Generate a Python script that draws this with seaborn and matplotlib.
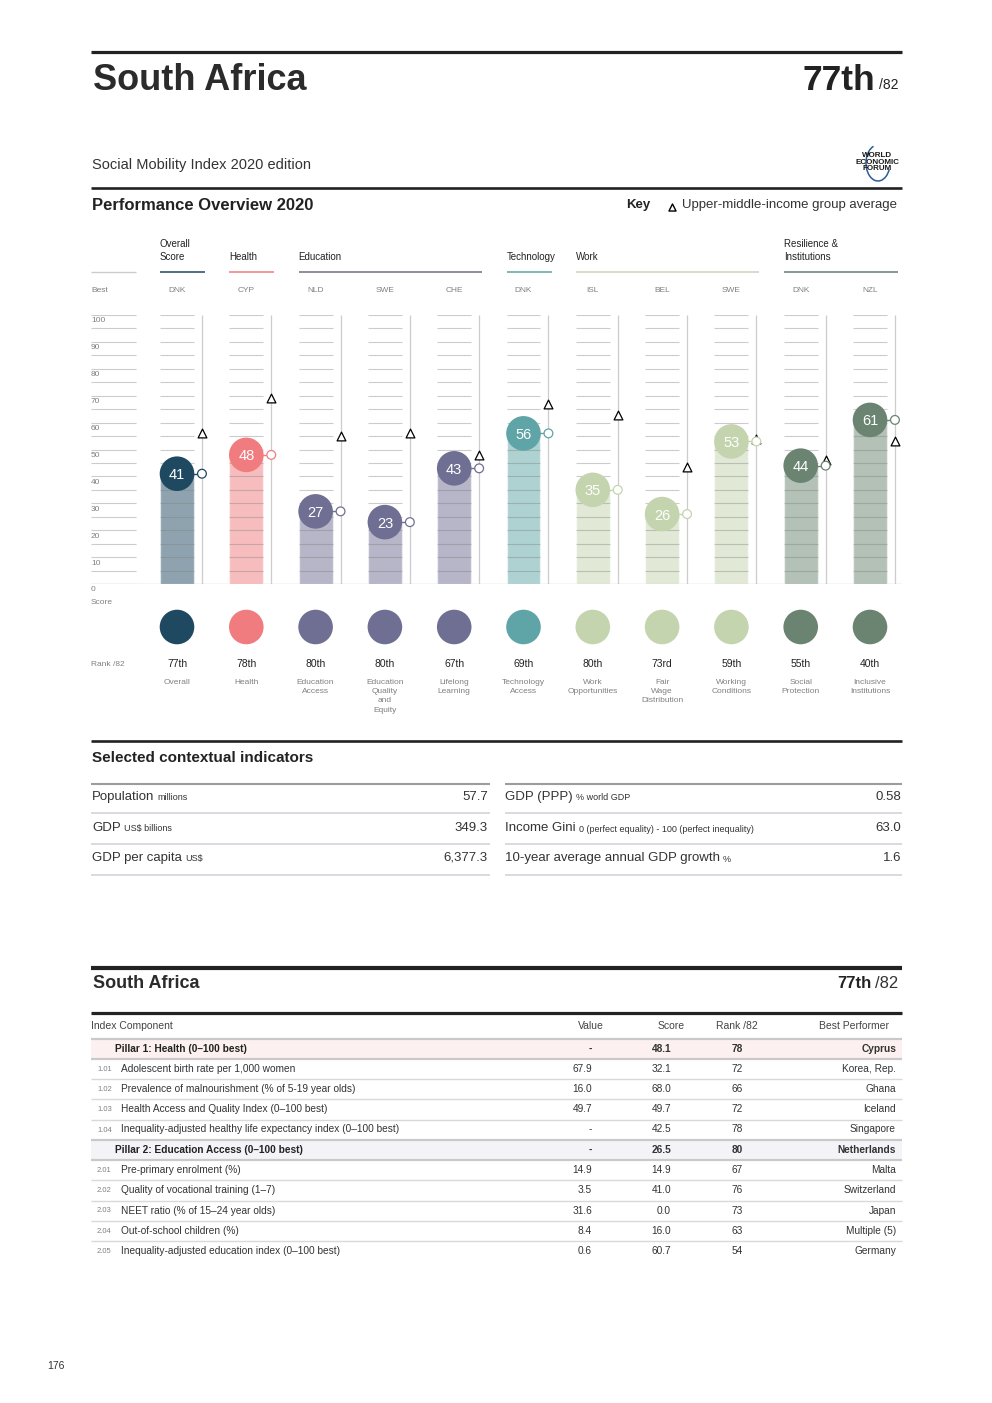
import numpy as np
import pandas as pd
import matplotlib
matplotlib.use('Agg')
import matplotlib.pyplot as plt
import seaborn as sns
from matplotlib.patches import Rectangle, Arc

sns.set_style('white')
plt.rcParams['font.family'] = ['Liberation Sans', 'DejaVu Sans']

# ---------------- data: performance overview ----------------
pillar_labels = ['Overall', 'Health', 'Education\nAccess', 'Education\nQuality\nand\nEquity',
                 'Lifelong\nLearning', 'Technology\nAccess', 'Work\nOpportunities',
                 'Fair\nWage\nDistribution', 'Working\nConditions', 'Social\nProtection',
                 'Inclusive\nInstitutions']
scores = [41, 48, 27, 23, 43, 56, 35, 26, 53, 44, 61]
group_avg = [56, 69, 55, 56, 48, 67, 63, 43.5, 54, 46, 53]
ranks = ['77th', '78th', '80th', '80th', '67th', '69th', '80th', '73rd', '59th', '55th', '40th']
best = ['DNK', 'CYP', 'NLD', 'SWE', 'CHE', 'DNK', 'ISL', 'BEL', 'SWE', 'DNK', 'NZL']
groups = ['Overall', 'Health', 'Education', 'Education', 'Education', 'Technology',
          'Work', 'Work', 'Work', 'Resilience', 'Resilience']
group_order = ['Overall', 'Health', 'Education', 'Technology', 'Work', 'Resilience']
group_titles = {'Overall': 'Overall\nScore', 'Health': 'Health', 'Education': 'Education',
                'Technology': 'Technology', 'Work': 'Work',
                'Resilience': 'Resilience &\nInstitutions'}
group_colors = {'Overall': '#1f4861', 'Health': '#f07c7f', 'Education': '#6f6f93',
                'Technology': '#5fa4a7', 'Work': '#c4d4ae', 'Resilience': '#6a8471'}
header_line_colors = {'Overall': '#1f4861', 'Health': '#f07c7f', 'Education': '#6f6f80',
                      'Technology': '#5fa4a7', 'Work': '#cfd0c0', 'Resilience': '#6a7a70'}

# ---------------- data: contextual indicators ----------------
ctx_left_labels = ['Population', 'GDP', 'GDP per capita']
ctx_left_units = ['millions', 'US$ billions', 'US$']
ctx_left_values = ['57.7', '349.3', '6,377.3']
ctx_right_labels = ['GDP (PPP)', 'Income Gini', '10-year average annual GDP growth']
ctx_right_units = ['% world GDP', '0 (perfect equality) - 100 (perfect inequality)', '%']
ctx_right_values = ['0.58', '63.0', '1.6']

# ---------------- data: index components ----------------
comp_codes = ['', '1.01', '1.02', '1.03', '1.04', '', '2.01', '2.02', '2.03', '2.04', '2.05']
comp_names = ['Pillar 1: Health (0\u2013100 best)',
              'Adolescent birth rate per 1,000 women',
              'Prevalence of malnourishment (% of 5-19 year olds)',
              'Health Access and Quality Index (0\u2013100 best)',
              'Inequality-adjusted healthy life expectancy index (0\u2013100 best)',
              'Pillar 2: Education Access (0\u2013100 best)',
              'Pre-primary enrolment (%)',
              'Quality of vocational training (1\u20137)',
              'NEET ratio (% of 15\u201324 year olds)',
              'Out-of-school children (%)',
              'Inequality-adjusted education index (0\u2013100 best)']
comp_values = ['-', '67.9', '16.0', '49.7', '-', '-', '14.9', '3.5', '31.6', '8.4', '0.6']
comp_scores = ['48.1', '32.1', '68.0', '49.7', '42.5', '26.5', '14.9', '41.0', '0.0', '16.0', '60.7']
comp_ranks = ['78', '72', '66', '72', '78', '80', '67', '76', '73', '63', '54']
comp_best = ['Cyprus', 'Korea, Rep.', 'Ghana', 'Iceland', 'Singapore', 'Netherlands',
             'Malta', 'Switzerland', 'Japan', 'Multiple (5)', 'Germany']
pillar_rows = [0, 5]
pillar_bg = {0: '#fcf1f0', 5: '#f4f4f8'}

# ---------------- page ----------------
W, H = 992, 1403
fig = plt.figure(figsize=(W / 100, H / 100), dpi=100)
bg = fig.add_axes([0, 0, 1, 1])
bg.set_xlim(0, W)
bg.set_ylim(H, 0)
bg.axis('off')
renderer = fig.canvas.get_renderer()

INK = '#222222'
TXT = '#333333'
GREY = '#808080'
LINE = '#cccccc'


def rule(y, x0, x1, lw, color=INK):
    bg.plot([x0, x1], [y, y], color=color, lw=lw, solid_capstyle='butt')


def label_with_unit(x, y, main, unit):
    t = bg.text(x, y, main, fontsize=9.5, color=TXT, va='center')
    x_end = t.get_window_extent(renderer).x1
    bg.text(x_end + 3, y + 1, unit, fontsize=6.5, color=TXT, va='center')


# header
rule(52, 91, 902, 2.3)
bg.text(93, 90, 'South Africa', fontsize=26, fontweight='bold', color='#2b2b2b', va='baseline')
bg.text(875, 90, ranks[0], fontsize=25.5, fontweight='bold', color=INK, ha='right', va='baseline')
bg.text(879, 89, '/82', fontsize=10, color=INK, va='baseline')
bg.text(92, 165, 'Social Mobility Index 2020 edition', fontsize=10.5, color=TXT, va='center')
bg.text(877, 162, 'WORLD\nECONOMIC\nFORUM', fontsize=5.8, fontweight='bold', color='#1a1a1a',
        ha='center', va='center', linespacing=0.9)
bg.add_patch(Arc((878, 163), 24, 36, theta1=30, theta2=255, color='#2c5c9c', lw=1.1))
rule(188, 91, 902, 1.9)
bg.text(92, 205, 'Performance Overview 2020', fontsize=12, fontweight='bold', color=INK, va='center')
bg.text(626, 205, 'Key', fontsize=9.5, fontweight='bold', color=INK, va='center')
bg.scatter([672], [206.5], marker='^', s=26, facecolor='white', edgecolor='black', lw=1)
bg.text(682, 205, 'Upper-middle-income group average', fontsize=9.5, color=TXT, va='center')

# ---------------- bar chart ----------------
X0, DX = 177, 69.3      # first column centre and column spacing (px)
Y0, KY = 584, 2.69      # score 0 baseline (px) and px per score point
xl, xr = 91, 902
n = len(scores)
pos = np.arange(n)


def colx(i):
    return X0 + DX * i


ax = fig.add_axes([xl / W, (H - Y0) / H, (xr - xl) / W, 100 * KY / H])
df = pd.DataFrame({'pos': pos, 'score': scores, 'avg': group_avg, 'group': groups})
bubble_cols = [group_colors[g] for g in groups]

sns.barplot(data=df, x='pos', y='score', hue='group', palette=group_colors, native_scale=True,
            dodge=False, width=0.49, saturation=1, alpha=0.5, errorbar=None, legend=False,
            ax=ax, zorder=2)

ticks = np.arange(5, 101, 5)
for i in pos:
    ax.hlines(ticks, i - 0.245, i + 0.245, color='#808080', alpha=0.4, lw=0.8, zorder=3)
ax.vlines(pos + 0.36, 0, 100, color=LINE, lw=0.9, zorder=1)
ax.axhline(0, color=LINE, lw=1, zorder=1)

left0, left1 = (91 - X0) / DX, (136 - X0) / DX
ax.hlines(np.arange(0, 101, 5), left0, left1, color=LINE, lw=0.8)
for v in range(0, 101, 10):
    ax.text(left0, v - 2.2, str(v), fontsize=6, color=GREY, va='center')
ax.text(left0, -7, 'Score', fontsize=6, color=GREY, va='center')

sns.scatterplot(data=df, x='pos', y='score', hue='group', palette=group_colors, s=620,
                linewidth=0, legend=False, ax=ax, zorder=5)
ax.hlines(scores, pos + 0.2, pos + 0.36, colors=bubble_cols, lw=1, zorder=4)
ax.scatter(pos + 0.36, group_avg, marker='^', s=40, facecolor='white', edgecolor='black',
           lw=0.9, zorder=6)
ax.scatter(pos + 0.36, scores, marker='o', s=40, facecolor='white', edgecolors=bubble_cols,
           lw=0.9, zorder=7)
for i, s in zip(pos, scores):
    ax.text(i, s, str(s), color='white', fontsize=10.5, ha='center', va='center_baseline',
            zorder=8)

ax.set_xlim((xl - X0) / DX, (xr - X0) / DX)
ax.set_ylim(0, 100)
ax.axis('off')

# column headers
rule(272, 91, 136, 1, LINE)
bg.text(91, 290, 'Best', fontsize=6, color=GREY, va='center')
for g in group_order:
    idx = [i for i, gg in enumerate(groups) if gg == g]
    x0 = colx(idx[0]) - 17
    x1 = colx(idx[-1]) + 28
    rule(272, x0, x1, 1.1, header_line_colors[g])
    bg.text(x0, 262, group_titles[g], fontsize=7, color=INK, va='bottom', linespacing=1.35)
for i in pos:
    bg.text(colx(i), 290, best[i], fontsize=6, color=GREY, ha='center', va='center')

# colour key circles, ranks and names
bg.scatter([colx(i) for i in pos], np.full(n, 627), s=620, c=bubble_cols, lw=0)
bg.text(91, 664, 'Rank /82', fontsize=6, color=GREY, va='center')
for i in pos:
    bg.text(colx(i), 664, ranks[i], fontsize=7.5, color=INK, ha='center', va='center')
    bg.text(colx(i), 679, pillar_labels[i], fontsize=6, color=GREY, ha='center', va='top',
            multialignment='center', linespacing=1.45)

# ---------------- contextual indicators ----------------
rule(741, 91, 902, 1.9)
bg.text(92, 758, 'Selected contextual indicators', fontsize=11, fontweight='bold', color=INK,
        va='center')
row_y = [797, 828, 858]
for x0, x1 in [(91, 490), (505, 902)]:
    rule(784, x0, x1, 1.5, '#9c9c9c')
    for y in [813, 844, 875]:
        rule(y, x0, x1, 1.3, '#d5d8de')
for k, y in enumerate(row_y):
    label_with_unit(92, y, ctx_left_labels[k], ctx_left_units[k])
    bg.text(488, y, ctx_left_values[k], fontsize=9.5, color=TXT, ha='right', va='center')
    label_with_unit(505, y, ctx_right_labels[k], ctx_right_units[k])
    bg.text(901, y, ctx_right_values[k], fontsize=9.5, color=TXT, ha='right', va='center')

# ---------------- index component table ----------------
rule(968, 91, 902, 3)
bg.text(93, 983, 'South Africa', fontsize=13, fontweight='bold', color='#2b2b2b', va='center')
bg.text(872, 983, ranks[0], fontsize=12, fontweight='bold', color=INK, ha='right', va='center')
bg.text(875, 983, '/82', fontsize=12, color=TXT, va='center')
rule(1013, 91, 902, 2.3)

bg.text(91, 1026, 'Index Component', fontsize=7.5, color='#444444', va='center')
bg.text(604, 1026, 'Value', fontsize=7.5, color='#444444', ha='right', va='center')
bg.text(685, 1026, 'Score', fontsize=7.5, color='#444444', ha='right', va='center')
bg.text(737, 1026, 'Rank /82', fontsize=7.5, color='#444444', ha='center', va='center')
bg.text(889, 1026, 'Best Performer', fontsize=7.5, color='#444444', ha='right', va='center')

for k in range(len(comp_names)):
    y = 1048.5 + 20.25 * k
    is_pillar = k in pillar_rows
    if is_pillar:
        bg.add_patch(Rectangle((91, y - 10), 811, 20, facecolor=pillar_bg[k], lw=0, zorder=0))
    heavy = k in (0, 1, 5, 6)
    rule(y - 10, 91, 902, 1.6 if heavy else 1.0, '#c9c9c9' if heavy else '#d9d9d9')
    fw = 'bold' if is_pillar else 'normal'
    if is_pillar:
        bg.text(115, y, comp_names[k], fontsize=7.3, fontweight='bold', color=INK, va='center')
    else:
        bg.text(97, y + 0.5, comp_codes[k], fontsize=5.5, color=GREY, va='center')
        bg.text(121, y, comp_names[k], fontsize=7.3, color=TXT, va='center')
    bg.text(592, y, comp_values[k], fontsize=7.3, fontweight=fw, color=TXT, ha='right', va='center')
    bg.text(671, y, comp_scores[k], fontsize=7.3, fontweight=fw, color=TXT, ha='right', va='center')
    bg.text(737, y, comp_ranks[k], fontsize=7.3, fontweight=fw, color=TXT, ha='center', va='center')
    bg.text(896, y, comp_best[k], fontsize=7.3, fontweight=fw, color=TXT, ha='right', va='center')

bg.text(47, 1366, '176', fontsize=7.5, color=TXT, va='center')

fig.savefig('out.png', dpi=100, facecolor='white')
